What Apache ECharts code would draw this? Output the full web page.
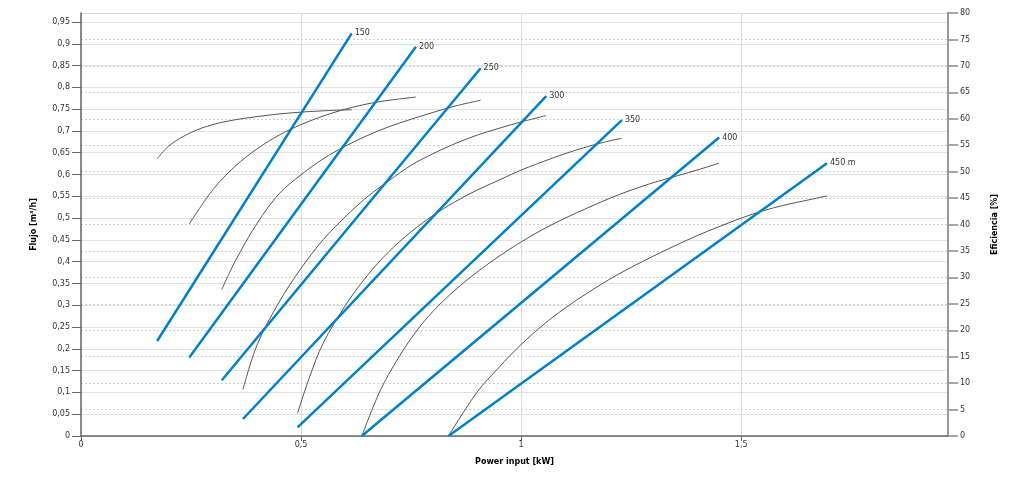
<!DOCTYPE html>
<html>
<head>
<meta charset="utf-8">
<script src="https://cdn.jsdelivr.net/npm/echarts@6/dist/echarts.min.js"></script>
<style>html,body{margin:0;padding:0;background:#fff}#c{width:1024px;height:494px}</style>
</head>
<body>
<div id="c"></div>
<script>
// Curve names (pump head)
const heads = ['150', '200', '250', '300', '350', '400', '450 m'];

// Flow lines (left axis): power input [kW] and flow [m³/h]
const flowX150 = [0.173, 0.615];  const flowY150 = [0.218, 0.924];
const flowX200 = [0.246, 0.761];  const flowY200 = [0.180, 0.893];
const flowX250 = [0.320, 0.908];  const flowY250 = [0.128, 0.844];
const flowX300 = [0.368, 1.057];  const flowY300 = [0.039, 0.780];
const flowX350 = [0.492, 1.229];  const flowY350 = [0.020, 0.725];
const flowX400 = [0.638, 1.450];  const flowY400 = [0.000, 0.685];
const flowX450 = [0.835, 1.695];  const flowY450 = [0.000, 0.626];

// Efficiency curves (right axis): power input [kW] and efficiency [%]
const effX150 = [0.173, 0.2, 0.25, 0.3, 0.35, 0.4, 0.45, 0.5, 0.55, 0.615];
const effY150 = [52.4, 54.9, 57.4, 58.9, 59.8, 60.4, 60.9, 61.25, 61.5, 61.7];
const effX200 = [0.246, 0.3, 0.35, 0.4, 0.45, 0.5, 0.55, 0.6, 0.65, 0.7, 0.761];
const effY200 = [40.1, 46.6, 51.0, 54.3, 56.9, 58.9, 60.5, 61.8, 62.8, 63.5, 64.1];
const effX250 = [0.32, 0.35, 0.4, 0.45, 0.5, 0.55, 0.6, 0.65, 0.7, 0.75, 0.8, 0.85, 0.908];
const effY250 = [27.7, 33.0, 40.2, 45.8, 49.4, 52.4, 54.8, 56.8, 58.5, 59.9, 61.2, 62.4, 63.5];
const effX300 = [0.368, 0.4, 0.45, 0.5, 0.55, 0.6, 0.65, 0.7, 0.75, 0.8, 0.85, 0.9, 0.95, 1.0, 1.057];
const effY300 = [8.8, 17.2, 25.3, 31.7, 37.1, 41.4, 45.2, 48.3, 51.2, 53.4, 55.3, 56.9, 58.2, 59.4, 60.6];
const effX350 = [0.492, 0.52, 0.55, 0.6, 0.65, 0.7, 0.75, 0.8, 0.85, 0.9, 0.95, 1.0, 1.05, 1.1, 1.15, 1.2, 1.229];
const effY350 = [4.3, 11.3, 17.5, 24.6, 30.3, 34.9, 38.6, 41.7, 44.3, 46.5, 48.4, 50.3, 51.9, 53.4, 54.7, 55.8, 56.3];
const effX400 = [0.638, 0.68, 0.72, 0.76, 0.8, 0.85, 0.9, 0.95, 1.0, 1.05, 1.1, 1.15, 1.2, 1.25, 1.3, 1.35, 1.4, 1.45];
const effY400 = [0.0, 8.6, 14.6, 19.6, 23.6, 27.6, 31.0, 34.0, 36.7, 39.1, 41.2, 43.1, 44.9, 46.5, 47.9, 49.1, 50.3, 51.6];
const effX450 = [0.835, 0.9, 0.95, 1.0, 1.05, 1.1, 1.15, 1.2, 1.25, 1.3, 1.35, 1.4, 1.45, 1.5, 1.55, 1.6, 1.65, 1.695];
const effY450 = [0.0, 8.3, 13.0, 17.3, 21.0, 24.2, 27.0, 29.6, 31.9, 34.0, 36.0, 37.9, 39.6, 41.2, 42.6, 43.7, 44.6, 45.4];

const flowXs = [flowX150, flowX200, flowX250, flowX300, flowX350, flowX400, flowX450];
const flowYs = [flowY150, flowY200, flowY250, flowY300, flowY350, flowY400, flowY450];
const effXs = [effX150, effX200, effX250, effX300, effX350, effX400, effX450];
const effYs = [effY150, effY200, effY250, effY300, effY350, effY400, effY450];

const zip = (xs, ys) => xs.map((x, i) => [x, ys[i]]);
const fmt = (step) => (v) => {
  const r = Math.round(v / step) * step;
  if (Math.abs(r - v) > 1e-6) return '';
  return String(+v.toFixed(2)).replace('.', ',');
};

const FONT = 'DejaVu Sans';
const series = [];
heads.forEach((h, i) => {
  series.push({
    type: 'line', name: 'eff' + h, yAxisIndex: 1,
    data: zip(effXs[i], effYs[i]),
    showSymbol: false, smooth: 0.35,
    lineStyle: { color: '#555', width: 1 }, z: 2, silent: true
  });
});
heads.forEach((h, i) => {
  series.push({
    type: 'line', name: h, yAxisIndex: 0,
    data: zip(flowXs[i], flowYs[i]),
    showSymbol: false,
    lineStyle: { color: '#0080c8', width: 2.5 }, z: 3, silent: true,
    endLabel: { show: true, formatter: h, fontFamily: FONT, fontSize: 8, color: '#333', distance: 3 }
  });
});

const chart = echarts.init(document.getElementById('c'), null, { renderer: 'canvas' });
chart.setOption({
  animation: false,
  grid: { left: 81, right: 76, top: 13, bottom: 58 },
  xAxis: {
    type: 'value', min: 0, max: 1.97, interval: 0.5,
    name: 'Power input [kW]', nameLocation: 'middle', nameGap: 22,
    nameTextStyle: { fontFamily: FONT, fontSize: 8, fontWeight: 'bold', color: '#000' },
    axisLine: { show: true, lineStyle: { color: '#666', width: 1.5 } },
    axisTick: { show: true, length: 5, lineStyle: { color: '#666' } },
    axisLabel: { fontFamily: FONT, fontSize: 8, color: '#333', margin: 5, formatter: fmt(0.5), showMaxLabel: false },
    splitLine: { show: true, lineStyle: { color: '#ddd', width: 1 } }
  },
  yAxis: [{
    type: 'value', min: 0, max: 0.9706, interval: 0.05,
    name: 'Flujo [m³/h]', nameLocation: 'middle', nameGap: 43, nameRotate: 90,
    nameTextStyle: { fontFamily: FONT, fontSize: 8, fontWeight: 'bold', color: '#000' },
    axisLine: { show: true, lineStyle: { color: '#666', width: 1.5 } },
    axisTick: { show: true, length: 9, lineStyle: { color: '#666' } },
    axisLabel: { fontFamily: FONT, fontSize: 8, color: '#333', margin: 11, formatter: fmt(0.05), showMaxLabel: false },
    splitLine: { show: true, lineStyle: { color: '#e2e2e2', width: 1 } }
  }, {
    type: 'value', min: 0, max: 80, interval: 5, position: 'right',
    name: 'Eficiencia [%]', nameLocation: 'middle', nameGap: 43, nameRotate: 90,
    nameTextStyle: { fontFamily: FONT, fontSize: 8, fontWeight: 'bold', color: '#000' },
    axisLine: { show: true, lineStyle: { color: '#999', width: 2 } },
    axisTick: { show: true, length: 10, lineStyle: { color: '#888', width: 1.5 } },
    axisLabel: { fontFamily: FONT, fontSize: 8, color: '#333', margin: 12 },
    splitLine: { show: true, lineStyle: { color: '#d0d0d0', width: 1, type: [2, 2] } }
  }],
  series: series
});
</script>
</body>
</html>
